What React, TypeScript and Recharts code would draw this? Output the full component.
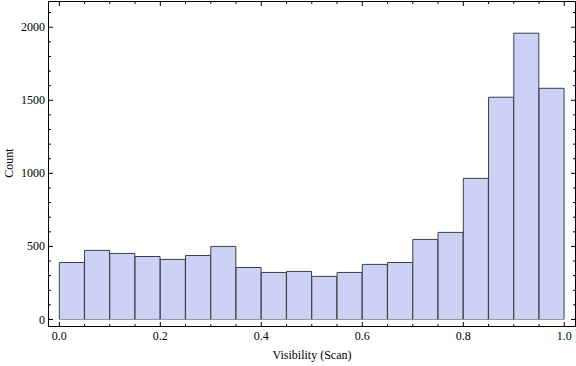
import { BarChart, Bar, XAxis, YAxis, Label } from "recharts";

// histogram bins (start of each 0.05 wide bin) and counts
const binStarts = [0, 0.05, 0.1, 0.15, 0.2, 0.25, 0.3, 0.35, 0.4, 0.45, 0.5, 0.55, 0.6, 0.65, 0.7, 0.75, 0.8, 0.85, 0.9, 0.95];
const counts = [390, 473, 452, 431, 411, 438, 500, 356, 322, 329, 295, 322, 377, 390, 548, 596, 966, 1521, 1959, 1582];
const binWidth = 0.05;

// frame ticks: minor + major
const xTicks = [0, 0.05, 0.1, 0.15, 0.2, 0.25, 0.3, 0.35, 0.4, 0.45, 0.5, 0.55, 0.6, 0.65, 0.7, 0.75, 0.8, 0.85, 0.9, 0.95, 1];
const xLabels = [0, 0.2, 0.4, 0.6, 0.8, 1];
const yTicks = [0, 100, 200, 300, 400, 500, 600, 700, 800, 900, 1000, 1100, 1200, 1300, 1400, 1500, 1600, 1700, 1800, 1900, 2000, 2100];
const yLabels = [0, 500, 1000, 1500, 2000];

const data = binStarts.map((b, i) => ({
  bin: b.toFixed(2),
  mid: b + binWidth / 2,
  count: counts[i],
}));

const FONT = "'Liberation Serif', 'Times New Roman', serif";
const FRAME = "#000";
const MAJOR = 4.5;
const MINOR = 2.5;
const xPad = { left: 10.8, right: 11.2 };

const isMajor = (list: number[], v: number) => list.some((l) => Math.abs(l - v) < 1e-9);

function BottomTick(props: any) {
  const { x, y, payload } = props;
  const major = isMajor(xLabels, payload.value);
  return (
    <g>
      <line x1={x} x2={x} y1={y} y2={y - (major ? MAJOR : MINOR)} stroke={FRAME} />
      {major && (
        <text x={x} y={y + 13.5} textAnchor="middle" fontFamily={FONT} fontSize={12} fill="#000">
          {payload.value.toFixed(1)}
        </text>
      )}
    </g>
  );
}

function TopTick(props: any) {
  const { x, y, payload } = props;
  const major = isMajor(xLabels, payload.value);
  return <line x1={x} x2={x} y1={y} y2={y + (major ? MAJOR : MINOR)} stroke={FRAME} />;
}

function LeftTick(props: any) {
  const { x, y, payload } = props;
  const major = isMajor(yLabels, payload.value);
  return (
    <g>
      <line x1={x} x2={x + (major ? MAJOR : MINOR)} y1={y} y2={y} stroke={FRAME} />
      {major && (
        <text x={x - 3.5} y={y + 4} textAnchor="end" fontFamily={FONT} fontSize={12} fill="#000">
          {payload.value}
        </text>
      )}
    </g>
  );
}

function RightTick(props: any) {
  const { x, y, payload } = props;
  const major = isMajor(yLabels, payload.value);
  return <line x1={x} x2={x - (major ? MAJOR : MINOR)} y1={y} y2={y} stroke={FRAME} />;
}

export default function App() {
  return (
    <div>
      <style>{"body{margin:0}"}</style>
      <BarChart
        width={576}
        height={366}
        data={data}
        barCategoryGap={0}
        margin={{ top: 0, right: 0, bottom: 0, left: 0.5 }}
      >
        <XAxis
          xAxisId="num"
          dataKey="mid"
          type="number"
          domain={[0, 1]}
          allowDataOverflow
          ticks={xTicks}
          interval={0}
          padding={xPad}
          height={39.5}
          tickSize={0}
          tickMargin={0}
          tickLine={false}
          axisLine={{ stroke: FRAME }}
          tick={<BottomTick />}
        >
          <Label
            content={(p: any) => (
              <text
                x={p.viewBox.x + p.viewBox.width / 2}
                y={p.viewBox.y + 32.5}
                textAnchor="middle"
                fontFamily={FONT}
                fontSize={12}
                fill="#000"
              >
                Visibility (Scan)
              </text>
            )}
          />
        </XAxis>
        <XAxis xAxisId="bins" dataKey="bin" hide height={0} padding={xPad} />
        <XAxis
          xAxisId="top"
          dataKey="mid"
          orientation="top"
          type="number"
          domain={[0, 1]}
          allowDataOverflow
          ticks={xTicks}
          interval={0}
          padding={xPad}
          height={1.5}
          tickSize={0}
          tickMargin={0}
          tickLine={false}
          axisLine={{ stroke: FRAME }}
          tick={<TopTick />}
        />
        <YAxis
          yAxisId="left"
          dataKey="count"
          domain={[0, 2176]}
          allowDataOverflow
          ticks={yTicks}
          interval={0}
          padding={{ top: 0, bottom: 7 }}
          width={48}
          tickSize={0}
          tickMargin={0}
          tickLine={false}
          axisLine={{ stroke: FRAME }}
          tick={<LeftTick />}
        >
          <Label
            content={(p: any) => {
              const cx = 12.5;
              const cy = p.viewBox.y + p.viewBox.height / 2 - 1;
              return (
                <text
                  x={cx}
                  y={cy}
                  transform={`rotate(-90 ${cx} ${cy})`}
                  textAnchor="middle"
                  fontFamily={FONT}
                  fontSize={12}
                  fill="#000"
                >
                  Count
                </text>
              );
            }}
          />
        </YAxis>
        <YAxis
          yAxisId="right"
          dataKey="count"
          orientation="right"
          domain={[0, 2176]}
          allowDataOverflow
          ticks={yTicks}
          interval={0}
          padding={{ top: 0, bottom: 7 }}
          width={0.5}
          tickSize={0}
          tickMargin={0}
          tickLine={false}
          axisLine={{ stroke: FRAME }}
          tick={<RightTick />}
        />
        <Bar
          xAxisId="bins"
          yAxisId="left"
          dataKey="count"
          fill="#cbd2f5"
          stroke="#3c3c44"
          strokeWidth={1}
          isAnimationActive={false}
        />
      </BarChart>
    </div>
  );
}
